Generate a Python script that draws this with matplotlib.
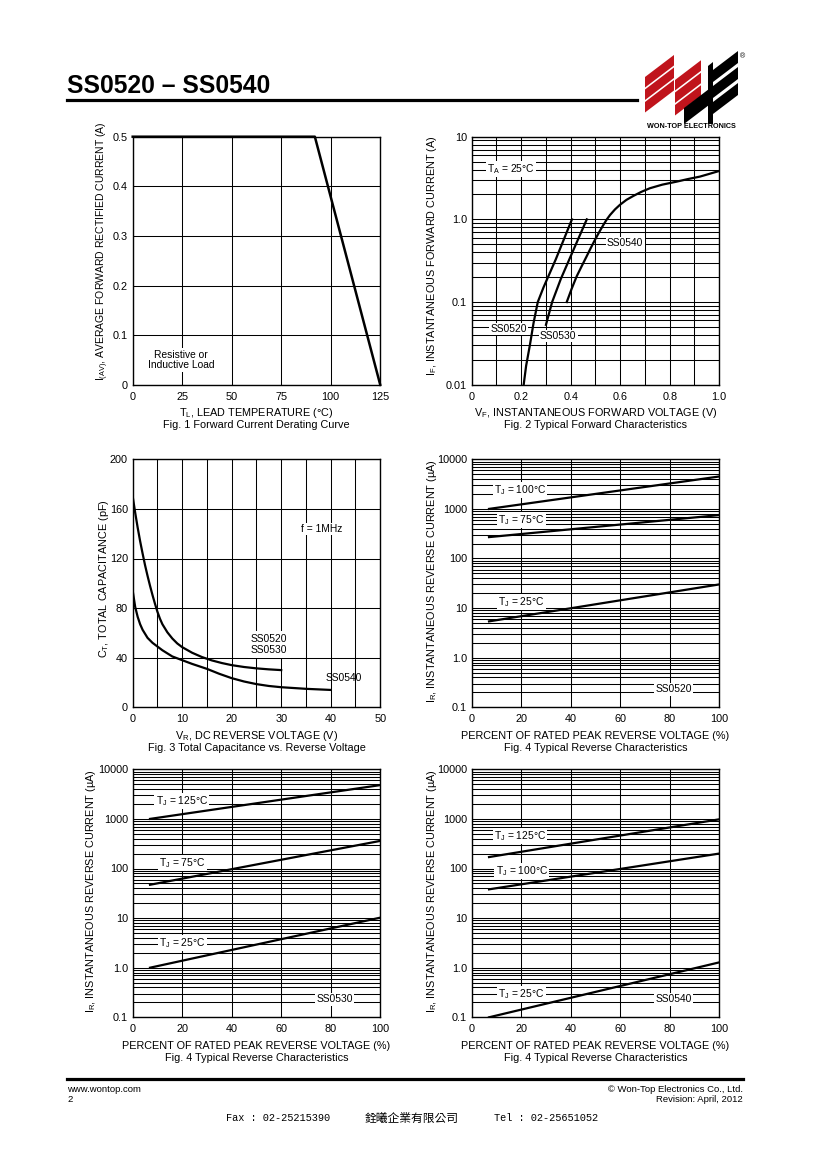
import numpy as np
import matplotlib.pyplot as plt
from matplotlib.lines import Line2D
from matplotlib.patches import Polygon
from matplotlib.ticker import LogLocator, NullFormatter, FixedLocator

plt.rcParams['font.family'] = ['Liberation Sans', 'DejaVu Sans']
plt.rcParams['mathtext.default'] = 'regular'

W, H = 820, 1160

# ---- данные ----

# Fig. 1
derating_temp = [0, 92, 125]
derating_current = [0.5, 0.5, 0.0]

# Fig. 2
vf_ss0520 = [0.21, 0.22, 0.235, 0.25, 0.267, 0.29, 0.34, 0.405]
if_ss0520 = [0.01, 0.017, 0.03, 0.056, 0.1, 0.15, 0.33, 1.0]
vf_ss0530 = [0.30, 0.325, 0.36, 0.41, 0.465]
if_ss0530 = [0.053, 0.1, 0.19, 0.42, 1.0]
vf_ss0540 = [0.384, 0.404, 0.424, 0.444, 0.464, 0.481, 0.498, 0.515, 0.532, 0.545, 0.559, 0.579,
             0.599, 0.625, 0.653, 0.685, 0.72, 0.77, 0.828, 0.875, 0.922, 0.96, 1.0]
if_ss0540 = [0.1, 0.145, 0.204, 0.27, 0.355, 0.45, 0.565, 0.7, 0.857, 0.99, 1.13, 1.32,
             1.5, 1.72, 1.92, 2.15, 2.38, 2.63, 2.86, 3.08, 3.29, 3.55, 3.85]

# Fig. 3
vr_ss0520 = [0, 0.5, 1, 1.5, 2, 2.5, 3, 3.5, 4, 4.5, 5, 5.5, 6, 7, 8, 9, 10, 12, 14, 16, 18, 20,
             22.5, 25, 27.5, 30]
ct_ss0520 = [170, 157, 145, 134, 124, 114.5, 106, 98, 90.5, 83.5, 77, 71.5, 67, 60.5, 55.5, 51.5,
             48.5, 44, 40.5, 37.8, 35.7, 34, 32.5, 31.4, 30.6, 30]
vr_ss0540 = [0, 0.5, 1, 1.5, 2, 3, 4, 5, 6, 7, 8, 10, 12, 15, 17.5, 20, 22.5, 25, 27.5, 30, 35, 40]
ct_ss0540 = [94, 81, 73, 67, 62.5, 56, 52, 49, 46, 43.5, 41, 38, 35, 31, 27, 23.5, 20.8, 18.7,
             17.2, 16.2, 14.9, 14]

# Fig. 4
pct = [7, 100]
ir20_100 = [1000, 4500]
ir20_75 = [270, 750]
ir20_25 = [5.4, 30]
ir30_125 = [1000, 4800]
ir30_75 = [47, 360]
ir30_25 = [1.0, 10.2]
ir40_125 = [170, 980]
ir40_100 = [38, 200]
ir40_25 = [0.1, 1.28]

log_ticks = [0.1, 1, 10, 100, 1000, 10000]
log_labels = ['0.1', '1.0', '10', '100', '1000', '10000']

FS = 7.8
FS_IN = 7.4
BOX = dict(boxstyle='square,pad=0.12', fc='white', ec='none')

fig = plt.figure(figsize=(W / 100, H / 100), dpi=100)


def make_axes(left_px, top_px):
    return fig.add_axes([left_px / W, 1 - (top_px + 248) / H, 247.5 / W, 248 / H])


def style(ax, xlabel, caption, ylabel, ylab_right_px, left_px, ylab_y=0.52, ylab_fs=FS):
    for s in ax.spines.values():
        s.set_linewidth(1.0)
    ax.tick_params(which='both', length=0, labelsize=FS)
    ax.tick_params(axis='x', pad=5)
    ax.tick_params(axis='y', pad=3.5)
    ax.grid(which='both', color='k', lw=0.75)
    ax.set_axisbelow(True)
    ax.text(0.5, -28.5 / 248, xlabel, transform=ax.transAxes, ha='center', va='center', fontsize=FS)
    ax.text(0.5, -40.5 / 248, caption, transform=ax.transAxes, ha='center', va='center', fontsize=FS)
    ax.set_ylabel(ylabel, fontsize=ylab_fs)
    ax.yaxis.set_label_coords((ylab_right_px - left_px) / 247.5, ylab_y)


def log_y(ax, ticks, labels):
    ax.set_yscale('log')
    ax.set_ylim(ticks[0], ticks[-1])
    ax.yaxis.set_major_locator(FixedLocator(ticks))
    ax.set_yticklabels(labels)
    ax.yaxis.set_minor_locator(LogLocator(base=10, subs=np.arange(2, 10)))
    ax.yaxis.set_minor_formatter(NullFormatter())


# ---- Fig. 1 ----
ax1 = make_axes(132.7, 136.7)
ax1.plot(derating_temp, derating_current, color='k', lw=1.8, zorder=3, clip_on=False)
ax1.set_xlim(0, 125)
ax1.set_ylim(0, 0.5)
ax1.set_xticks([0, 25, 50, 75, 100, 125])
ax1.set_yticks([0, 0.1, 0.2, 0.3, 0.4, 0.5], ['0', '0.1', '0.2', '0.3', '0.4', '0.5'])
style(ax1, 'T$_L$, LEAD TEMPERATURE (°C)', 'Fig. 1 Forward Current Derating Curve',
      'I$_{(AV)}$, AVERAGE FORWARD RECTIFIED CURRENT (A)', 111.5, 132.7, ylab_y=0.538, ylab_fs=7.45)
ax1.text(24.3, 0.05, 'Resistive or\nInductive Load', ha='center', va='center',
         fontsize=FS_IN, bbox=BOX, linespacing=1.1)

# ---- Fig. 2 ----
ax2 = make_axes(471.7, 136.7)
ax2.plot(vf_ss0520, if_ss0520, color='k', lw=1.6, zorder=3)
ax2.plot(vf_ss0530, if_ss0530, color='k', lw=1.6, zorder=3)
ax2.plot(vf_ss0540, if_ss0540, color='k', lw=1.6, zorder=3)
ax2.set_xlim(0, 1.0)
ax2.set_xticks([0, 0.2, 0.4, 0.6, 0.8, 1.0], ['0', '0.2', '0.4', '0.6', '0.8', '1.0'])
ax2.set_xticks(np.arange(0.1, 1.0, 0.2), minor=True)
log_y(ax2, [0.01, 0.1, 1, 10], ['0.01', '0.1', '1.0', '10'])
style(ax2, 'V$_F$, INSTANTANEOUS FORWARD VOLTAGE (V)', 'Fig. 2 Typical Forward Characteristics',
      'I$_F$, INSTANTANEOUS FORWARD CURRENT (A)', 439.5, 471.7)
ax2.text(0.16, 4.1, 'T$_A$ = 25°C', ha='center', va='center', fontsize=FS_IN, bbox=BOX)
ax2.text(0.62, 0.52, 'SS0540', ha='center', va='center', fontsize=FS_IN, bbox=BOX)
ax2.text(0.148, 0.047, 'SS0520', ha='center', va='center', fontsize=FS_IN, bbox=BOX)
ax2.text(0.35, 0.039, 'SS0530', ha='center', va='center', fontsize=FS_IN, bbox=BOX)

# ---- Fig. 3 ----
ax3 = make_axes(132.7, 459.3)
ax3.plot(vr_ss0520, ct_ss0520, color='k', lw=1.6, zorder=3)
ax3.plot(vr_ss0540, ct_ss0540, color='k', lw=1.6, zorder=3)
ax3.set_xlim(0, 50)
ax3.set_ylim(0, 200)
ax3.set_xticks([0, 10, 20, 30, 40, 50])
ax3.set_xticks([5, 15, 25, 35, 45], minor=True)
ax3.set_yticks([0, 40, 80, 120, 160, 200])
style(ax3, 'V$_R$, DC REVERSE VOLTAGE (V)', 'Fig. 3 Total Capacitance vs. Reverse Voltage',
      'C$_T$, TOTAL CAPACITANCE (pF)', 111, 132.7)
ax3.text(38.2, 144, 'f = 1MHz', ha='center', va='center', fontsize=FS_IN, bbox=BOX)
ax3.text(27.6, 50.8, 'SS0520\nSS0530', ha='center', va='center', fontsize=FS_IN,
         bbox=dict(boxstyle='square,pad=0.3', fc='white', ec='none'), linespacing=1.1)
ax3.text(42.6, 24, 'SS0540', ha='center', va='center', fontsize=FS_IN)

# ---- Fig. 4 (три графика) ----
fig4 = [
    (471.7, 459.3, 439.5, [ir20_100, ir20_75, ir20_25],
     [('T$_J$ = 100°C', 19.5, 2400), ('T$_J$ = 75°C', 20.2, 600), ('T$_J$ = 25°C', 20.2, 13.5)], 'SS0520'),
    (132.7, 769.3, 98.5, [ir30_125, ir30_75, ir30_25],
     [('T$_J$ = 125°C', 19.8, 2330), ('T$_J$ = 75°C', 20.2, 131), ('T$_J$ = 25°C', 20.2, 3.1)], 'SS0530'),
    (471.7, 769.3, 439.5, [ir40_125, ir40_100, ir40_25],
     [('T$_J$ = 125°C', 19.5, 453), ('T$_J$ = 100°C', 20.2, 89), ('T$_J$ = 25°C', 20.2, 0.295)], 'SS0540'),
]
for left, top, ylab_r, series, labels, part in fig4:
    ax = make_axes(left, top)
    for ir in series:
        ax.plot(pct, ir, color='k', lw=1.6, zorder=3)
    ax.set_xlim(0, 100)
    ax.set_xticks([0, 20, 40, 60, 80, 100])
    log_y(ax, log_ticks, log_labels)
    style(ax, 'PERCENT OF RATED PEAK REVERSE VOLTAGE (%)', 'Fig. 4 Typical Reverse Characteristics',
          'I$_R$, INSTANTANEOUS REVERSE CURRENT (µA)', ylab_r, left, ylab_y=0.51)
    for txt, x, y in labels:
        ax.text(x, y, txt, ha='center', va='center', fontsize=FS_IN, bbox=BOX)
    ax.text(81.7, 0.23, part, ha='center', va='center', fontsize=FS_IN, bbox=BOX)

# ---- шапка, логотип, подвал ----
deco = fig.add_axes([0, 0, 1, 1], zorder=-1)
deco.set_xlim(0, W)
deco.set_ylim(H, 0)
deco.axis('off')

deco.text(67, 93, 'SS0520 – SS0540', fontsize=17.7, fontweight='bold', ha='left', va='baseline')
deco.add_line(Line2D([67, 637], [99.5, 99.5], color='k', lw=2.3))


def stripe(x0, x1, y0, h, color, slope=0.76):
    dy = slope * (x1 - x0)
    deco.add_patch(Polygon([(x0, y0), (x1, y0 - dy), (x1, y0 - dy + h), (x0, y0 + h)],
                           closed=True, fc=color, ec='none'))


red = '#c0141c'
for y0 in (77, 89.5, 102):
    stripe(645, 674, y0, 10.5, red)
for y0 in (80, 92.5, 105):
    stripe(675, 701, y0, 10.5, red)
stripe(684, 710, 108, 16, 'k')
deco.add_patch(Polygon([(708, 66), (713, 62), (713, 124), (708, 124)], closed=True, fc='k', ec='none'))
for y0 in (70, 86, 102):
    stripe(713, 738, y0, 12, 'k')
deco.text(743, 57, '®', fontsize=5, ha='center', va='center')
deco.text(691, 127, 'WON-TOP ELECTRONICS', fontsize=5.2, fontweight='bold', ha='center', va='center')

deco.add_line(Line2D([67, 743], [1079, 1079], color='k', lw=2.3))
deco.text(67, 1089, 'www.wontop.com', fontsize=6.8, ha='left', va='center')
deco.text(67, 1100, '2', fontsize=6.8, ha='left', va='center')
deco.text(743, 1089, '© Won-Top Electronics Co., Ltd.', fontsize=6.8, ha='right', va='center')
deco.text(743, 1100, 'Revision: April, 2012', fontsize=6.8, ha='right', va='center')
deco.text(226, 1118, 'Fax : 02-25215390', fontsize=7.4, ha='left', va='center',
          family=['Liberation Mono', 'DejaVu Sans Mono'])
deco.text(412, 1118, '銓曦企業有限公司', fontsize=8.5, ha='center', va='center',
          family=['Noto Sans CJK TC', 'DejaVu Sans'])
deco.text(494, 1118, 'Tel : 02-25651052', fontsize=7.4, ha='left', va='center',
          family=['Liberation Mono', 'DejaVu Sans Mono'])

fig.savefig('out.png', dpi=100, facecolor='white')
